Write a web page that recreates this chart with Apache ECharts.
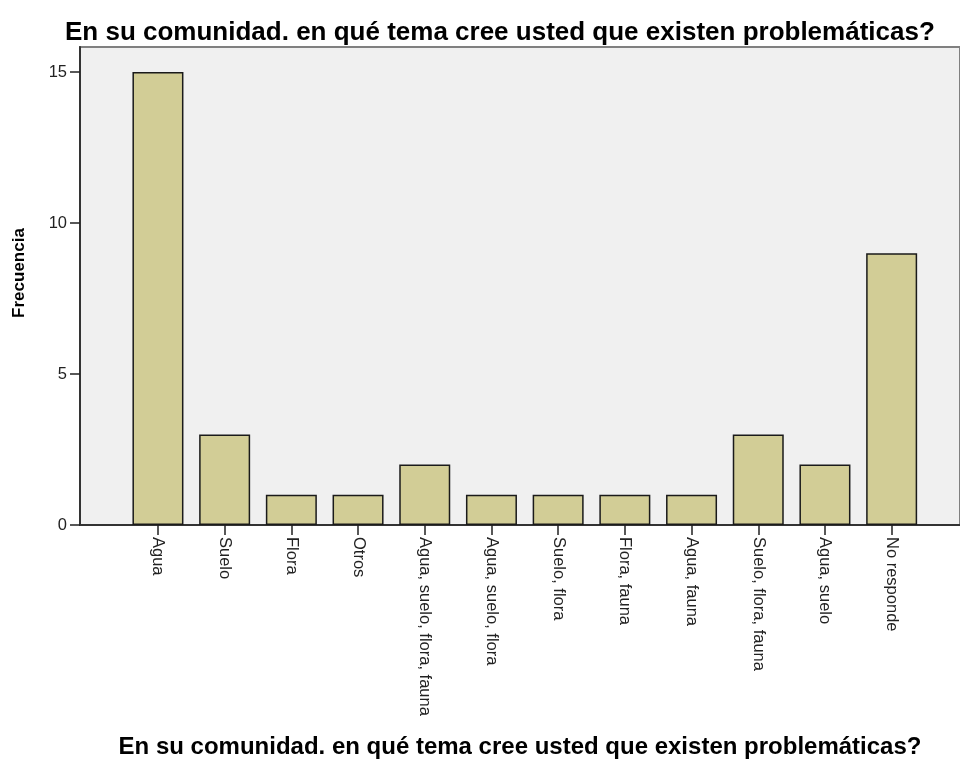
<!DOCTYPE html>
<html>
<head>
<meta charset="utf-8">
<script src="https://cdn.jsdelivr.net/npm/echarts@6/dist/echarts.min.js"></script>
<style>html,body{margin:0;padding:0;background:#fff;}#c{width:960px;height:766px;}</style>
</head>
<body>
<div id="c"></div>
<script>
const titleText = 'En su comunidad. en qué tema cree usted que existen problemáticas?';
const categories = ['Agua','Suelo','Flora','Otros','Agua, suelo, flora, fauna','Agua, suelo, flora','Suelo, flora','Flora, fauna','Agua, fauna','Suelo, flora, fauna','Agua, suelo','No responde'];
const frequencies = [15,3,1,1,2,1,1,1,1,3,2,9];
const yTicks = [0,5,10,15];

const FONT = '"Liberation Sans", Arial, sans-serif';
const chart = echarts.init(document.getElementById('c'), null, {renderer:'canvas'});
chart.setOption({
  animation:false,
  title:{text:titleText,left:60,top:15,textStyle:{fontFamily:FONT,fontSize:26,fontWeight:'bold',color:'#000'}},
  grid:[
    {left:80,right:0,top:47,bottom:241,outerBoundsMode:'none',containLabel:false,show:true,backgroundColor:'#f0f0f0',borderColor:'#808080',borderWidth:2},
    {left:124.6,width:800.4,top:72,bottom:241,outerBoundsMode:'none',containLabel:false}
  ],
  xAxis:[
    {gridIndex:0,type:'value',min:0,max:1,axisLine:{show:true,onZero:false,lineStyle:{color:'#333',width:2}},axisTick:{show:false},axisLabel:{show:false},splitLine:{show:false},
     name:titleText,nameLocation:'middle',nameGap:210,nameTextStyle:{fontFamily:FONT,fontSize:24,fontWeight:'bold',color:'#000'}},
    {gridIndex:1,type:'category',data:categories,axisLine:{show:false},
     axisTick:{show:true,alignWithLabel:true,length:10,lineStyle:{color:'#222',width:1.5}},
     axisLabel:{rotate:-90,margin:12,fontFamily:FONT,fontSize:16.5,color:'#222',interval:0}}
  ],
  yAxis:[
    {gridIndex:0,type:'value',min:0,max:1,axisLine:{show:true,onZero:false,lineStyle:{color:'#333',width:2}},axisTick:{show:false},axisLabel:{show:false},splitLine:{show:false},
     name:'Frecuencia',nameLocation:'middle',nameGap:52,nameTextStyle:{fontFamily:FONT,fontSize:17,fontWeight:'bold',color:'#000',padding:[0,0,0,26]}},
    {gridIndex:1,type:'value',min:yTicks[0],max:yTicks[yTicks.length-1],interval:5,offset:44.6,axisLine:{show:false},
     axisTick:{show:true,length:10,lineStyle:{color:'#222',width:1.5}},
     axisLabel:{margin:13,fontFamily:FONT,fontSize:16.5,color:'#222'},splitLine:{show:false}}
  ],
  series:[{
    type:'bar',xAxisIndex:1,yAxisIndex:1,data:frequencies,barWidth:51,
    itemStyle:{color:'#d2cd96',borderColor:'#1a1a1a',borderWidth:1.5}
  }]
});
</script>
</body>
</html>
